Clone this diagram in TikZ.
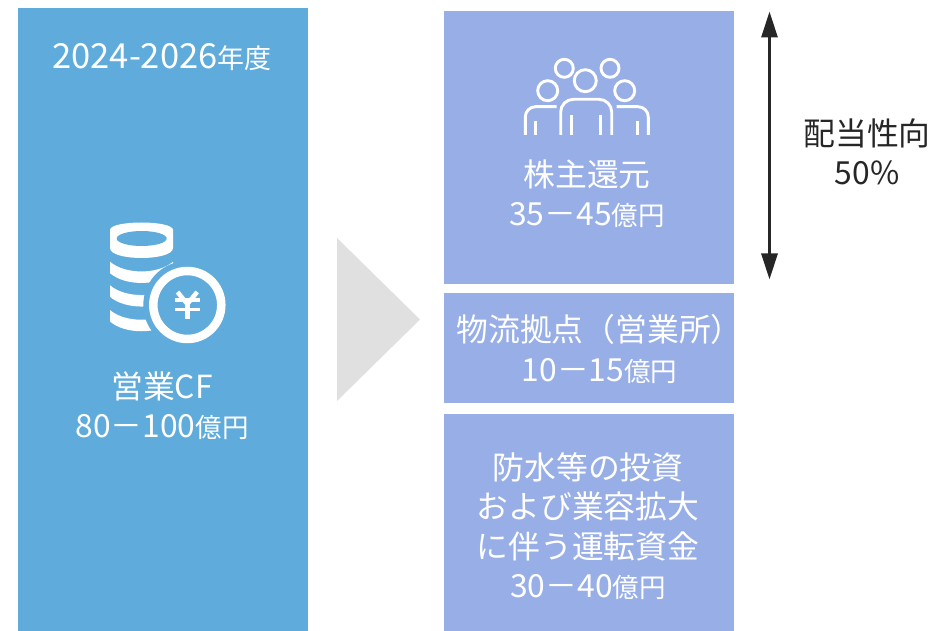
\documentclass[tikz,border=0pt]{standalone}
\usepackage{fontspec}
\setmainfont{Noto Sans CJK JP}
\usetikzlibrary{arrows.meta}
\definecolor{leftblue}{HTML}{5FABDB}
\definecolor{rightblue}{HTML}{98AEE6}
\definecolor{tri}{HTML}{E0E0E0}
\definecolor{dark}{HTML}{262626}
\newcommand{\sm}[1]{{\fontsize{26.5}{39}\selectfont #1}}
\tikzset{
  wtext/.style={text=white,align=center,font=\fontsize{31.8}{39.3}\selectfont,inner sep=0},
  dtext/.style={text=dark,align=center,font=\fontsize{31.8}{39.3}\selectfont,inner sep=0},
  iconline/.style={draw=white,line width=2.9pt,line cap=butt},
  doublearrow/.style={draw=dark,line width=3pt,{Triangle[width=16pt,length=26pt]}-{Triangle[width=16pt,length=26pt]}}
}
\begin{document}
\begin{tikzpicture}[x=1pt,y=-1pt]
\useasboundingbox (0,0) rectangle (932,631);
% panels
\fill[leftblue] (18,8) rectangle (308,631);
\fill[rightblue] (444,11) rectangle (734,284);
\fill[rightblue] (444,293) rectangle (734,403);
\fill[rightblue] (444,414) rectangle (734,631);
\fill[tri] (337,238) -- (420,319.5) -- (337,401) -- cycle;
% coin icon
\fill[white] (110,230) .. controls (110,220) and (173,220) .. (173,230) -- (173,248) .. controls (173,261.3) and (110,261.3) .. (110,248) -- cycle;
\fill[leftblue] (141.7,238.5) ellipse (25 and 7.5);
\foreach \t in {261.7,285.3,310}{
  \fill[white] (110,\t) .. controls (125,\t+13) and (158,\t+13) .. (173,\t) -- (173,\t+11.5) .. controls (158,\t+24.5) and (125,\t+24.5) .. (110,\t+11.5) -- cycle;
}
\fill[leftblue] (187.3,305) circle (44);
\draw[white,line width=8.5pt] (187.3,305) circle (34);
\draw[white,line width=4.5pt] (177.5,292) -- (187.3,304) -- (197.2,292);
\draw[white,line width=4.5pt] (187.3,304) -- (187.3,319);
\draw[white,line width=3.6pt] (175,300) -- (199.6,300);
\draw[white,line width=3.6pt] (175,309.5) -- (199.6,309.5);
% people icon
\draw[iconline] (585.3,80.7) circle (11);
\draw[iconline] (564.3,68.3) circle (9);
\draw[iconline] (610,68.3) circle (9);
\draw[iconline] (547.7,90.7) circle (10);
\draw[iconline] (624.7,90.7) circle (10);
\draw[iconline] (560.7,135) -- (560.7,112) arc[start angle=180,end angle=270,radius=12.7,y=-1pt] -- (599,99.3) arc[start angle=270,end angle=360,radius=12.7,y=-1pt] -- (611.7,135);
\draw[iconline] (571.7,115) -- (571.7,135);
\draw[iconline] (600.7,115) -- (600.7,135);
\draw[iconline] (525.3,135) -- (525.3,117) arc[start angle=180,end angle=270,radius=10.3,y=-1pt] -- (556.7,106.7);
\draw[iconline] (535.3,120.7) -- (535.3,135);
\draw[iconline] (648.3,135) -- (648.3,117) arc[start angle=360,end angle=270,radius=10.3,y=-1pt] -- (616.7,106.7);
\draw[iconline] (637.3,120.7) -- (637.3,135);
% texts
\node[wtext] (period) at (162,57) {{\fontsize{34.5}{39}\selectfont 2024-2026}{\fontsize{27}{39}\selectfont 年度}};
\node[wtext] (cf) at (162,406) {営業CF\\80－100\sm{億円}};
\node[wtext] (ret) at (587,194) {株主還元\\35－45\sm{億円}};
\node[wtext] (log) at (599.5,349) {物流拠点（営業所）\\10－15\sm{億円}};
\node[wtext] (inv) at (588,526) {防水等の投資\\および業容拡大\\に伴う運転資金\\30－40\sm{億円}};
\node[dtext] (payout) at (867,151.5) {配当性向\\50\%};
% arrow
\coordinate (atop) at (769.5,11.5);
\coordinate (abot) at (769.5,279.5);
\draw[doublearrow] (atop) -- (abot);
\end{tikzpicture}
\end{document}
